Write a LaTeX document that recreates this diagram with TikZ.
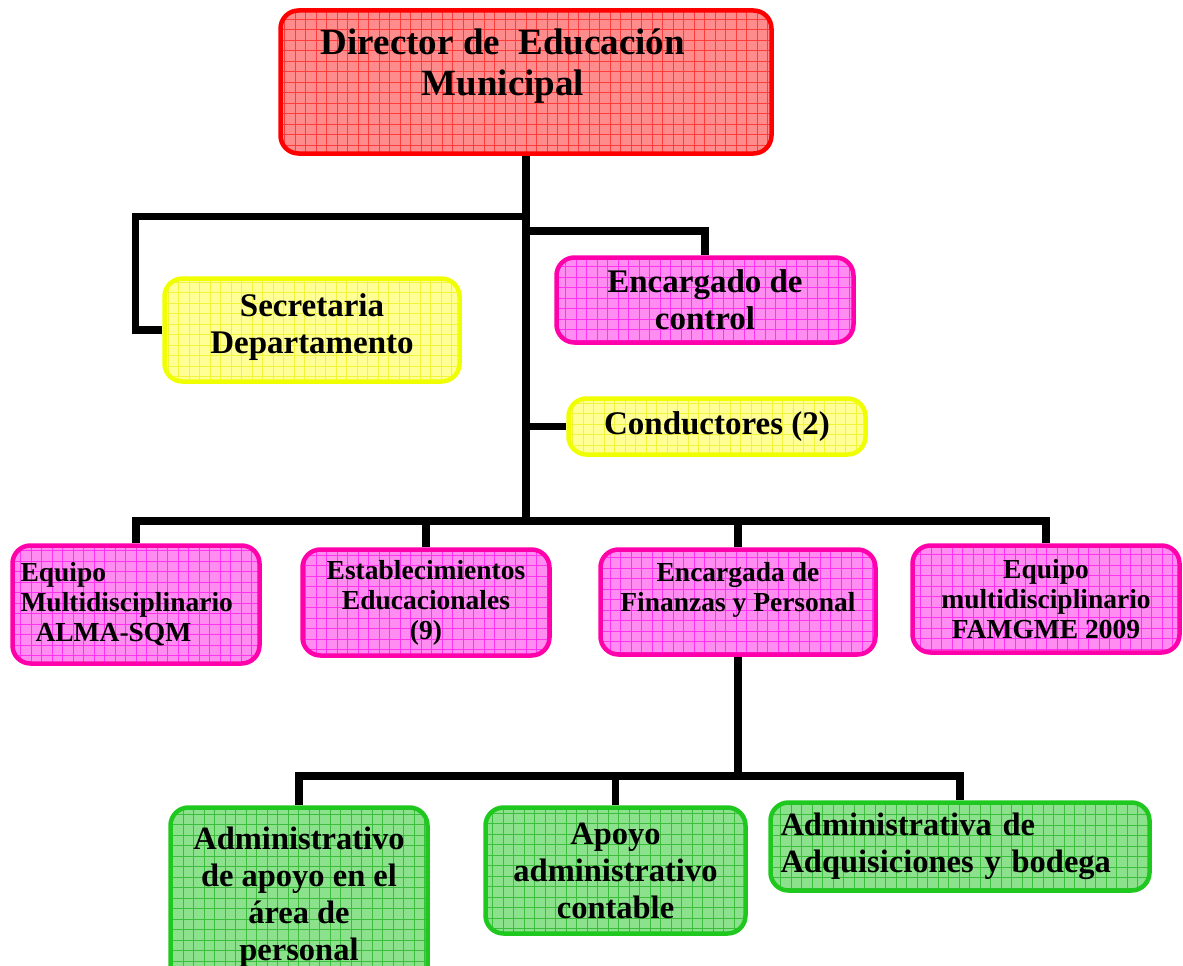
\documentclass[tikz,border=0pt]{standalone}
\usepackage{fontspec}
\setmainfont{Liberation Serif}
\definecolor{redline}{RGB}{255,0,0}
\definecolor{redfill}{RGB}{255,140,140}
\definecolor{redgrid}{RGB}{255,60,60}
\definecolor{pinkline}{RGB}{255,0,170}
\definecolor{pinkfill}{RGB}{255,140,240}
\definecolor{pinkgrid}{RGB}{255,50,240}
\definecolor{yelline}{RGB}{240,255,0}
\definecolor{yelfill}{RGB}{255,255,150}
\definecolor{yelgrid}{RGB}{240,245,60}
\definecolor{grnline}{RGB}{30,200,30}
\definecolor{grnfill}{RGB}{140,225,140}
\definecolor{grngrid}{RGB}{60,190,60}
\usetikzlibrary{backgrounds}
\tikzset{
  gridbox/.style n args={3}{draw=#1, fill=#2, rounded corners=18pt, line width=4.5pt,
    inner sep=0pt, align=center,
    path picture={\draw[#3, line width=0.6pt, step=10.5pt]
      (path picture bounding box.south west) grid (path picture bounding box.north east);}},
  redbox/.style={gridbox={redline}{redfill}{redgrid}},
  pinkbox/.style={gridbox={pinkline}{pinkfill}{pinkgrid}},
  yelbox/.style={gridbox={yelline}{yelfill}{yelgrid}},
  grnbox/.style={gridbox={grnline}{grnfill}{grngrid}},
  toptext/.style={align=center, font=\bfseries\fontsize{37}{41}\selectfont},
  midtext/.style={font=\bfseries\fontsize{33}{37}\selectfont},
  rowtext/.style={font=\bfseries\fontsize{27.5}{30}\selectfont},
  lowtext/.style={font=\bfseries\fontsize{32.5}{37}\selectfont},
  conn/.style={draw=black, line width=7.5pt}
}
\begin{document}
\begin{tikzpicture}[x=1pt,y=-1pt]
  \useasboundingbox (0,0) rectangle (1183,966);

  \node [redbox, minimum width=491, minimum height=143] (director) at (526,82) {};
  \node [toptext] (tdirector) at (503,66) {Director de\ \ Educación\\Municipal};

  \node [yelbox, midtext, minimum width=295, minimum height=103] (secretaria) at (312,330) {Secretaria\\Departamento\\[-25pt]\mbox{}};
  \node [pinkbox, midtext, minimum width=297, minimum height=85] (control) at (705,300) {Encargado de\\control};
  \node [yelbox, midtext, minimum width=297, minimum height=56] (conductores) at (717,426.5) {Conductores (2)};

  \node [pinkbox, rowtext, align=left, text width=231, inner xsep=8pt, minimum height=118] (alma) at (136,604.5) {Equipo\\Multidisciplinario\\\hspace*{15pt}ALMA-SQM};
  \node [pinkbox, rowtext, minimum width=247, minimum height=106] (estab) at (426,602.5) {Establecimientos\\Educacionales\\(9)};
  \node [pinkbox, rowtext, minimum width=275, minimum height=105] (finanzas) at (738,602) {Encargada de\\Finanzas y Personal\\\mbox{}};
  \node [pinkbox, rowtext, minimum width=267, minimum height=107] (famgme) at (1046,599) {Equipo\\multidisciplinario\\FAMGME 2009};

  \node [grnbox, lowtext, minimum width=257, minimum height=180] (adminper) at (299,897.5) {Administrativo\\de apoyo en el\\área de\\personal};
  \node [grnbox, lowtext, minimum width=260, minimum height=126] (apoyo) at (615.5,870.5) {Apoyo\\administrativo\\contable};
  \node [grnbox, lowtext, align=left, text width=359, inner xsep=10pt, minimum height=88] (adquis) at (960,846.5) {Administrativa de\\Adquisiciones y bodega};

  \coordinate (jsec) at (135.5,216.5);
  \coordinate (jctl) at (0,231);
  \coordinate (bar2) at (0,521);
  \coordinate (bar3) at (0,776);

  \begin{scope}[on background layer]
    \draw [conn] (director.south) -- (director.south |- bar2);
    \draw [conn] (director.south |- jsec) -- (jsec) |- (secretaria.west);
    \draw [conn] (director.south |- jctl) -| (control.north);
    \draw [conn] (director.south |- conductores.west) -- (conductores.west);
    \draw [conn] (alma.north) -- (alma.north |- bar2) -- (famgme.north |- bar2) -- (famgme.north);
    \draw [conn] (estab.north) -- (estab.north |- bar2);
    \draw [conn] (finanzas.north) -- (finanzas.north |- bar2);
    \draw [conn] (finanzas.south) -- (finanzas.south |- bar3);
    \draw [conn] (adminper.north) -- (adminper.north |- bar3) -- (adquis.north |- bar3) -- (adquis.north);
    \draw [conn] (apoyo.north) -- (apoyo.north |- bar3);
  \end{scope}
\end{tikzpicture}
\end{document}
